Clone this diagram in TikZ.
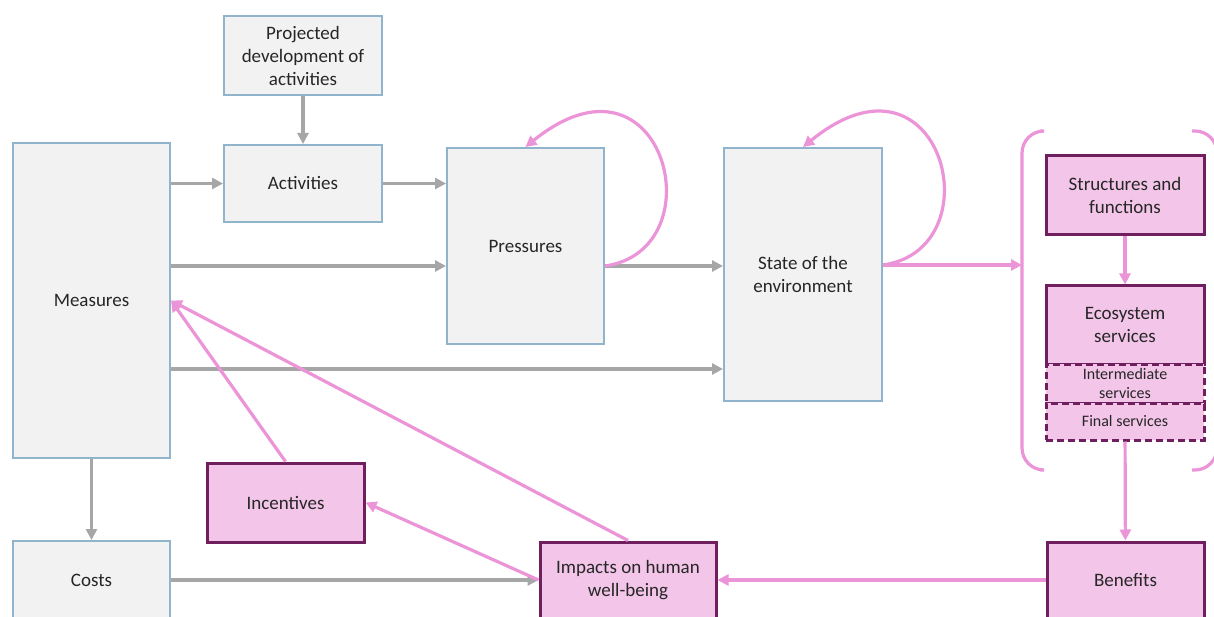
\documentclass[tikz,border=0pt]{standalone}
\usepackage{fontspec}
\setmainfont{Carlito}
\usetikzlibrary{positioning, arrows.meta}

\definecolor{greyfill}{HTML}{F2F2F2}
\definecolor{greyedge}{HTML}{8FB4CB}
\definecolor{greyline}{HTML}{A6A6A6}
\definecolor{pinkfill}{HTML}{F3C5E9}
\definecolor{pinkedge}{HTML}{701F5E}
\definecolor{pinkline}{HTML}{EC94D8}
\definecolor{textgrey}{HTML}{262626}

\begin{document}
\begin{tikzpicture}[
    x=1pt, y=-1pt,
    box/.style={rectangle, align=center, inner sep=2pt, text=textgrey, font=\fontsize{19}{23}\selectfont},
    greybox/.style={box, draw=greyedge, line width=2pt, fill=greyfill},
    pinkbox/.style={box, draw=pinkedge, line width=3pt, fill=pinkfill},
    dashbox/.style={box, draw=pinkedge, line width=3pt, fill=pinkfill, dash pattern=on 7pt off 4pt, font=\fontsize{16}{19}\selectfont},
    greyarrow/.style={-{Triangle[length=11pt, width=11pt]}, line width=3.5pt, greyline},
    pinkarrow/.style={-{Triangle[length=11pt, width=11pt]}, line width=3.2pt, pinkline},
    bracket/.style={line width=3.2pt, pinkline, rounded corners=22pt}
]
    \useasboundingbox (0,0) rectangle (1214,617);
    \clip (0,0) rectangle (1214,617);

    % Driver column
    \node[greybox, minimum width=158pt, minimum height=79pt] (proj) at (303,55.5) {Projected\\development of\\activities};
    \node[greybox, minimum width=158pt, minimum height=77pt] (act) at (303,183.5) {Activities};
    \node[greybox, minimum width=157pt, minimum height=315pt] (meas) at (91.5,300.5) {Measures};
    \node[greybox, minimum width=157pt, minimum height=78pt] (costs) at (91.5,580) {Costs};

    % Pressures and state
    \node[greybox, minimum width=157pt, minimum height=196pt] (press) at (525.5,246) {Pressures};
    \node[greybox, minimum width=158pt, minimum height=253pt] (state) at (803,274.5) {State of the\\environment};

    % Ecosystem group
    \node[pinkbox, minimum width=158pt, minimum height=79pt] (struct) at (1125,195.5) {Structures and\\functions};
    \node[pinkbox, minimum width=158pt, minimum height=78pt] (ecos) at (1125,325) {Ecosystem\\services};
    \node[dashbox, minimum width=158pt, minimum height=39pt] (inter) at (1125,383.5) {Intermediate\\services};
    \node[dashbox, minimum width=158pt, minimum height=37pt] (final) at (1125,421.5) {Final services};
    \draw[bracket] (1040,131) -- (1022,131) -- (1022,470) -- (1040,470);
    \draw[bracket] (1192,131) -- (1217,131) -- (1217,470) -- (1192,470);
    \coordinate (brk) at (1022,265);

    % Welfare row
    \node[pinkbox, minimum width=157pt, minimum height=79pt] (incent) at (285.5,502.5) {Incentives};
    \node[pinkbox, minimum width=176pt, minimum height=76pt] (impacts) at (628,580) {Impacts on human\\well-being};
    \node[pinkbox, minimum width=157pt, minimum height=76pt] (benef) at (1125.5,580) {Benefits};

    % Grey connectors
    \coordinate (pout) at ([yshift=-20pt]press.east);
    \coordinate (pin) at ([yshift=-20pt]press.west);
    \coordinate (sin) at ([yshift=-94.5pt]state.west);
    \coordinate (sout) at ([yshift=9.5pt]state.east);
    \draw[greyarrow] (proj) -- (act);
    \draw[greyarrow] (meas.east |- act.west) -- (act.west);
    \draw[greyarrow] (act.east) -- (press.west |- act.east);
    \draw[greyarrow] (meas.east |- pin) -- (pin);
    \draw[greyarrow] (pout) -- (state.west |- pout);
    \draw[greyarrow] (meas.east |- sin) -- (sin);
    \draw[greyarrow] (meas) -- (costs);
    \draw[greyarrow] (costs) -- (impacts);

    % Pink connectors
    \draw[pinkarrow] (pout) .. controls (718,250) and (664,35) .. (press.north);
    \draw[pinkarrow] (sout) .. controls (996,249) and (942,34) .. (state.north);
    \draw[pinkarrow] (sout) -- (brk);
    \draw[pinkarrow] (struct) -- (ecos);
    \draw[pinkarrow] (final) -- (benef);
    \draw[pinkarrow] (benef) -- (impacts);
    \draw[pinkarrow] (impacts.west) -- (incent.east);
    \draw[pinkarrow] (impacts.north) -- (meas.east);
    \draw[pinkarrow] (incent.north) -- (meas.east);
\end{tikzpicture}
\end{document}
